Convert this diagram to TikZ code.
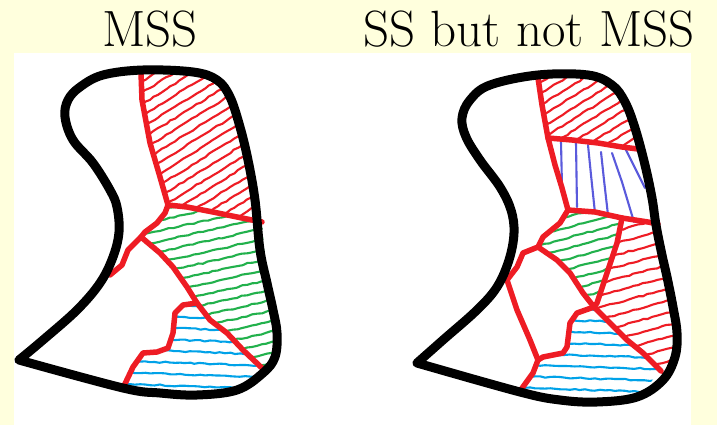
\documentclass[tikz,border=0pt]{standalone}
\usetikzlibrary{decorations.pathmorphing}
\definecolor{bgyellow}{HTML}{FFFFDD}
\definecolor{pred}{HTML}{EE1C24}
\definecolor{pgreen}{HTML}{22B14C}
\definecolor{pcyan}{HTML}{00A2E8}
\definecolor{pblue}{HTML}{5A5ADC}
\tikzset{
  outline/.style={line width=9pt, line join=round, line cap=round, black},
  border/.style={line width=5.5pt, line join=round, line cap=round, pred},
  hatch/.style={line width=2.1pt, line cap=round, line join=round,
    decorate, decoration={random steps, segment length=5pt, amplitude=0.7pt}},
  title/.style={anchor=base, inner sep=0pt, font=\fontsize{51}{60}\selectfont}
}
\begin{document}
\begin{tikzpicture}[x=1pt,y=-1pt]
\pgfmathsetseed{11}
\useasboundingbox (0,0) rectangle (717,425);
\fill[bgyellow] (0,0) rectangle (717,425);
\fill[white] (14,53) rectangle (691,425);
\node[title] (t1) at (150,47) {MSS};
\node[title] (t2) at (529,47) {SS but not MSS};

% ---------- left shape: hatching ----------
\begin{scope}
\clip (141,70) -- (193,72) -- (217,80) -- (230,97) -- (240,127) -- (248,160) -- (255,200) -- (262,222) -- (237,217) -- (213,212) -- (187,207) -- (168,205) -- (160,177) -- (150,143) -- (142,100) -- cycle;
\foreach \y in {72,83.5,...,350} \draw[hatch,pred] (120,\y) -- +(160,-100);
\end{scope}
\begin{scope}
\clip (168,205) -- (187,207) -- (213,212) -- (237,217) -- (262,222) -- (267,283) -- (273,310) -- (277,333) -- (275,357) -- (263,369) -- (243,350) -- (227,333) -- (210,320) -- (197,303) -- (187,287) -- (173,267) -- (160,253) -- (141,237) -- (145,232) -- (157,223) -- (165,213) -- cycle;
\foreach \y in {206,216.5,...,410} \draw[hatch,pgreen] (130,\y) -- (290,\y-36);
\end{scope}
\begin{scope}
\clip (197,303) -- (210,320) -- (227,333) -- (243,350) -- (263,369) -- (237,390) -- (197,395) -- (160,393) -- (123,388) -- (133,367) -- (143,353) -- (157,352) -- (168,348) -- (173,333) -- (175,313) -- (183,305) -- cycle;
\foreach \y in {303,314.5,...,400} \draw[hatch,pcyan] (115,\y) -- (280,\y+6);
\end{scope}

% ---------- left shape: borders ----------
\draw[border] (141,73) -- (142,100) -- (150,143) -- (160,177) -- (168,205) coordinate (J1);
\draw[border] (J1) -- (187,207) -- (213,212) -- (237,217) -- (262,222);
\draw[border] (J1) -- (165,213) -- (157,223) -- (145,232) -- (141,237) coordinate (J2) -- (128,250) -- (122,265) -- (110,275);
\draw[border] (J2) -- (160,253) -- (173,267) -- (187,287) -- (197,303) coordinate (J3) -- (210,320) -- (227,333) -- (243,350) -- (263,369);
\draw[border] (J3) -- (183,305) -- (175,313) -- (173,333) -- (168,348) -- (157,352) -- (143,353) -- (133,367) -- (123,388);

\draw[outline] plot[smooth, tension=0.6] coordinates {(19,360) (43,340) (77,310) (100,283) (113,257) (119,232) (117,207) (110,190) (93,163) (73,140) (65,117) (68,100) (80,87) (103,75) (143,70) (193,72) (217,80) (230,97) (240,127) (248,160) (255,200) (260,250) (267,283) (273,310) (277,333) (275,357) (263,373) (237,390) (197,395) (160,393) (123,388) (19,360)};

% ---------- right shape: hatching ----------
\begin{scope}
\clip (538,75) -- (588,75) -- (612,85) -- (625,102) -- (635,128) -- (641,149) -- (622,147) -- (598,143) -- (572,140) -- (548,138) -- (542,105) -- cycle;
\foreach \y in {72,83.5,...,240} \draw[hatch,pred] (520,\y) -- +(160,-100);
\end{scope}
\begin{scope}[line width=2.1pt, line cap=round, line join=round, pblue]
\draw (561,142) -- (562,187);
\draw (576,143) -- (577,207);
\draw (588,145) -- (591,175) -- (595,213);
\draw (601,152) -- (604,180) -- (608,215);
\draw (612,153) -- (622,182) -- (634,222);
\draw (626,150) -- (635,168) -- (645,188);
\end{scope}
\begin{scope}
\clip (568,210) -- (595,212) -- (622,218) -- (617,243) -- (607,273) -- (597,303) -- (583,293) -- (570,273) -- (557,260) -- (538,247) -- (543,237) -- (560,223) -- cycle;
\foreach \y in {206,216.5,...,340} \draw[hatch,pgreen] (530,\y) -- (630,\y-27);
\end{scope}
\begin{scope}
\clip (623,220) -- (648,222) -- (658,224) -- (660,240) -- (667,277) -- (673,307) -- (677,333) -- (675,357) -- (663,375) -- (643,353) -- (627,340) -- (610,323) -- (594,307) -- (597,303) -- (607,273) -- (617,243) -- cycle;
\foreach \y in {226,238,...,430} \draw[hatch,pred] (590,\y) -- (690,\y-27);
\end{scope}
\begin{scope}
\clip (594,307) -- (610,323) -- (627,340) -- (643,353) -- (661,371) -- (637,397) -- (597,402) -- (560,400) -- (520,392) -- (533,373) -- (538,360) -- (543,357) -- (563,353) -- (567,347) -- (570,323) -- (577,313) -- cycle;
\foreach \y in {307,318.5,...,410} \draw[hatch,pcyan] (510,\y) -- (670,\y+5);
\end{scope}

% ---------- right shape: borders ----------
\draw[border] (538,78) -- (542,105) -- (548,138) coordinate (K1) -- (555,165) -- (562,188) -- (568,210) coordinate (K2);
\draw[border] (K1) -- (572,140) -- (598,143) -- (622,147) -- (638,149);
\draw[border] (K2) -- (595,212) -- (622,218) coordinate (K3) -- (648,222) -- (658,224);
\draw[border] (K2) -- (560,223) -- (543,237) -- (538,247) coordinate (K4) -- (523,253) -- (517,267) -- (507,280) coordinate (K5);
\draw[border] (K4) -- (557,260) -- (570,273) -- (583,293) -- (594,307) coordinate (K6);
\draw[border] (K3) -- (617,243) -- (607,273) -- (597,303) -- (K6);
\draw[border] (K6) -- (610,323) -- (627,340) -- (643,353) -- (661,371);
\draw[border] (K6) -- (577,313) -- (570,323) -- (567,347) -- (563,353) -- (543,357) -- (538,360) coordinate (K7);
\draw[border] (K5) -- (517,310) -- (530,340) -- (K7);
\draw[border] (K7) -- (533,373) -- (520,391);

\draw[outline] plot[smooth, tension=0.6] coordinates {(417,363) (443,340) (477,310) (497,287) (509,260) (514,233) (511,210) (500,187) (480,160) (466,137) (462,118) (470,100) (490,85) (538,75) (588,75) (612,85) (625,102) (635,128) (645,165) (652,198) (656,225) (662,255) (667,277) (673,307) (677,333) (675,357) (663,380) (637,397) (597,402) (560,400) (520,392) (417,363)};
\end{tikzpicture}
\end{document}
